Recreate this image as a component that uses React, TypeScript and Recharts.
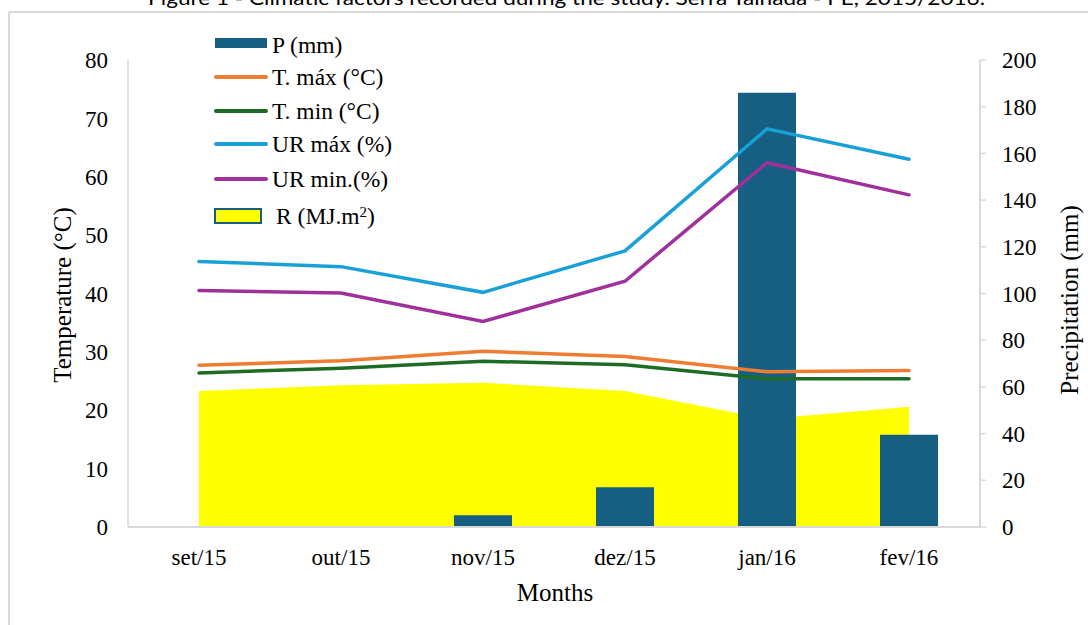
import React from "react";
import { ComposedChart, Bar, Line, Area, XAxis, YAxis } from "recharts";

const months = ["set/15", "out/15", "nov/15", "dez/15", "jan/16", "fev/16"];
const precip = [0, 0, 5, 17, 186, 39.5];
const tMax = [27.7, 28.5, 30.1, 29.2, 26.6, 26.8];
const tMin = [26.4, 27.2, 28.4, 27.8, 25.4, 25.4];
const urMax = [45.5, 44.6, 40.2, 47.3, 68.2, 63.0];
const urMin = [40.5, 40.1, 35.2, 42.1, 62.4, 56.9];
const radiation = [23.3, 24.3, 24.7, 23.3, 18.5, 20.6];

const tempTicks = [0, 10, 20, 30, 40, 50, 60, 70, 80];
const precipTicks = [0, 20, 40, 60, 80, 100, 120, 140, 160, 180, 200];

const data = months.map((m, i) => ({
  month: m,
  p: precip[i],
  tmax: tMax[i],
  tmin: tMin[i],
  urmax: urMax[i],
  urmin: urMin[i],
  r: radiation[i],
}));

const SERIF = "'Liberation Serif', 'Times New Roman', serif";
const GRID = "#d9d9d9";
const BAR = "#175f82";

const lines = [
  { key: "tmax", name: "T. máx (°C)", color: "#ed7d31" },
  { key: "tmin", name: "T. min (°C)", color: "#1e6b26" },
  { key: "urmax", name: "UR máx (%)", color: "#19a0d8" },
  { key: "urmin", name: "UR min.(%)", color: "#a0309a" },
];

const tick = { fill: "#000", fontSize: 23, fontFamily: SERIF };

function LegendBox() {
  const rowText = { position: "absolute" as const, left: 272, fontFamily: SERIF, fontSize: 23.5, color: "#000", lineHeight: "24px", whiteSpace: "nowrap" as const };
  return (
    <div style={{ position: "absolute", left: 0, top: 0 }}>
      <div style={{ position: "absolute", left: 215, top: 38, width: 52, height: 10, background: BAR }} />
      <div style={{ ...rowText, top: 33 }}>P (mm)</div>
      {lines.map((l, i) => {
        const y = [77, 111, 144, 179][i];
        return (
          <React.Fragment key={l.key}>
            <div style={{ position: "absolute", left: 214, top: y - 2, width: 54, height: 4, borderRadius: 2, background: l.color }} />
            <div style={{ ...rowText, top: y - 12 }}>{l.name}</div>
          </React.Fragment>
        );
      })}
      <div style={{ position: "absolute", left: 214, top: 208, width: 44, height: 12, background: "#ffff00", border: `2px solid ${BAR}` }} />
      <div style={{ ...rowText, left: 276, top: 204 }}>
        R (MJ.m<sup style={{ fontSize: 15, verticalAlign: "7px", lineHeight: 0 }}>2</sup>)
      </div>
    </div>
  );
}

export default function App() {
  return (
    <div style={{ position: "absolute", left: 0, top: 0, width: 1088, height: 625, background: "#fff", overflow: "hidden" }}>
      <svg width={1088} height={625} style={{ position: "absolute", left: 0, top: 0 }}>
        <text x={148} y={5} fontFamily="Lato, 'Open Sans', sans-serif" fontSize={19} textLength={837} lengthAdjust="spacingAndGlyphs" fill="#000">
          Figure 1 - Climatic factors recorded during the study. Serra Talhada - PE, 2015/2016.
        </text>
        <line x1={9} y1={12} x2={1088} y2={12} stroke={GRID} strokeWidth={2} />
        <line x1={9} y1={12} x2={9} y2={625} stroke={GRID} strokeWidth={2} />
      </svg>
      <div style={{ position: "absolute", left: 0, top: 0 }}>
        <ComposedChart width={1088} height={625} data={data} margin={{ top: 60, right: 0, bottom: 68, left: 0 }}>
          <XAxis
            dataKey="month"
            height={30}
            tick={tick}
            tickLine={false}
            tickSize={0}
            tickMargin={22}
            axisLine={{ stroke: GRID, strokeWidth: 2 }}
          />
          <YAxis
            yAxisId="left"
            width={128}
            domain={[0, 80]}
            ticks={tempTicks}
            interval={0}
            tick={tick}
            tickLine={false}
            tickSize={0}
            tickMargin={20}
            axisLine={{ stroke: GRID, strokeWidth: 1.5 }}
          />
          <YAxis
            yAxisId="right"
            orientation="right"
            width={108}
            domain={[0, 200]}
            ticks={precipTicks}
            interval={0}
            tick={tick}
            tickSize={6}
            tickMargin={16}
            tickLine={{ stroke: GRID, strokeWidth: 1.5 }}
            axisLine={{ stroke: GRID, strokeWidth: 2 }}
          />
          <Area
            yAxisId="left"
            type="linear"
            dataKey="r"
            stroke="none"
            fill="#ffff00"
            fillOpacity={1}
            isAnimationActive={false}
          />
          <Bar yAxisId="right" dataKey="p" fill={BAR} barSize={58} isAnimationActive={false} />
          {lines.map((l) => (
            <Line
              key={l.key}
              yAxisId="left"
              type="linear"
              dataKey={l.key}
              stroke={l.color}
              strokeWidth={3.5}
              strokeLinecap="round"
              dot={false}
              activeDot={false}
              isAnimationActive={false}
            />
          ))}
        </ComposedChart>
      </div>
      <LegendBox />
      <div style={{ position: "absolute", left: 63, top: 295, transform: "translate(-50%, -50%) rotate(-90deg)", fontFamily: SERIF, fontSize: 25, whiteSpace: "nowrap", color: "#000" }}>
        Temperature (°C)
      </div>
      <div style={{ position: "absolute", left: 1070, top: 300, transform: "translate(-50%, -50%) rotate(-90deg)", fontFamily: SERIF, fontSize: 25, whiteSpace: "nowrap", color: "#000" }}>
        Precipitation (mm)
      </div>
      <div style={{ position: "absolute", left: 555, top: 593, transform: "translate(-50%, -50%)", fontFamily: SERIF, fontSize: 25, whiteSpace: "nowrap", color: "#000" }}>
        Months
      </div>
    </div>
  );
}
